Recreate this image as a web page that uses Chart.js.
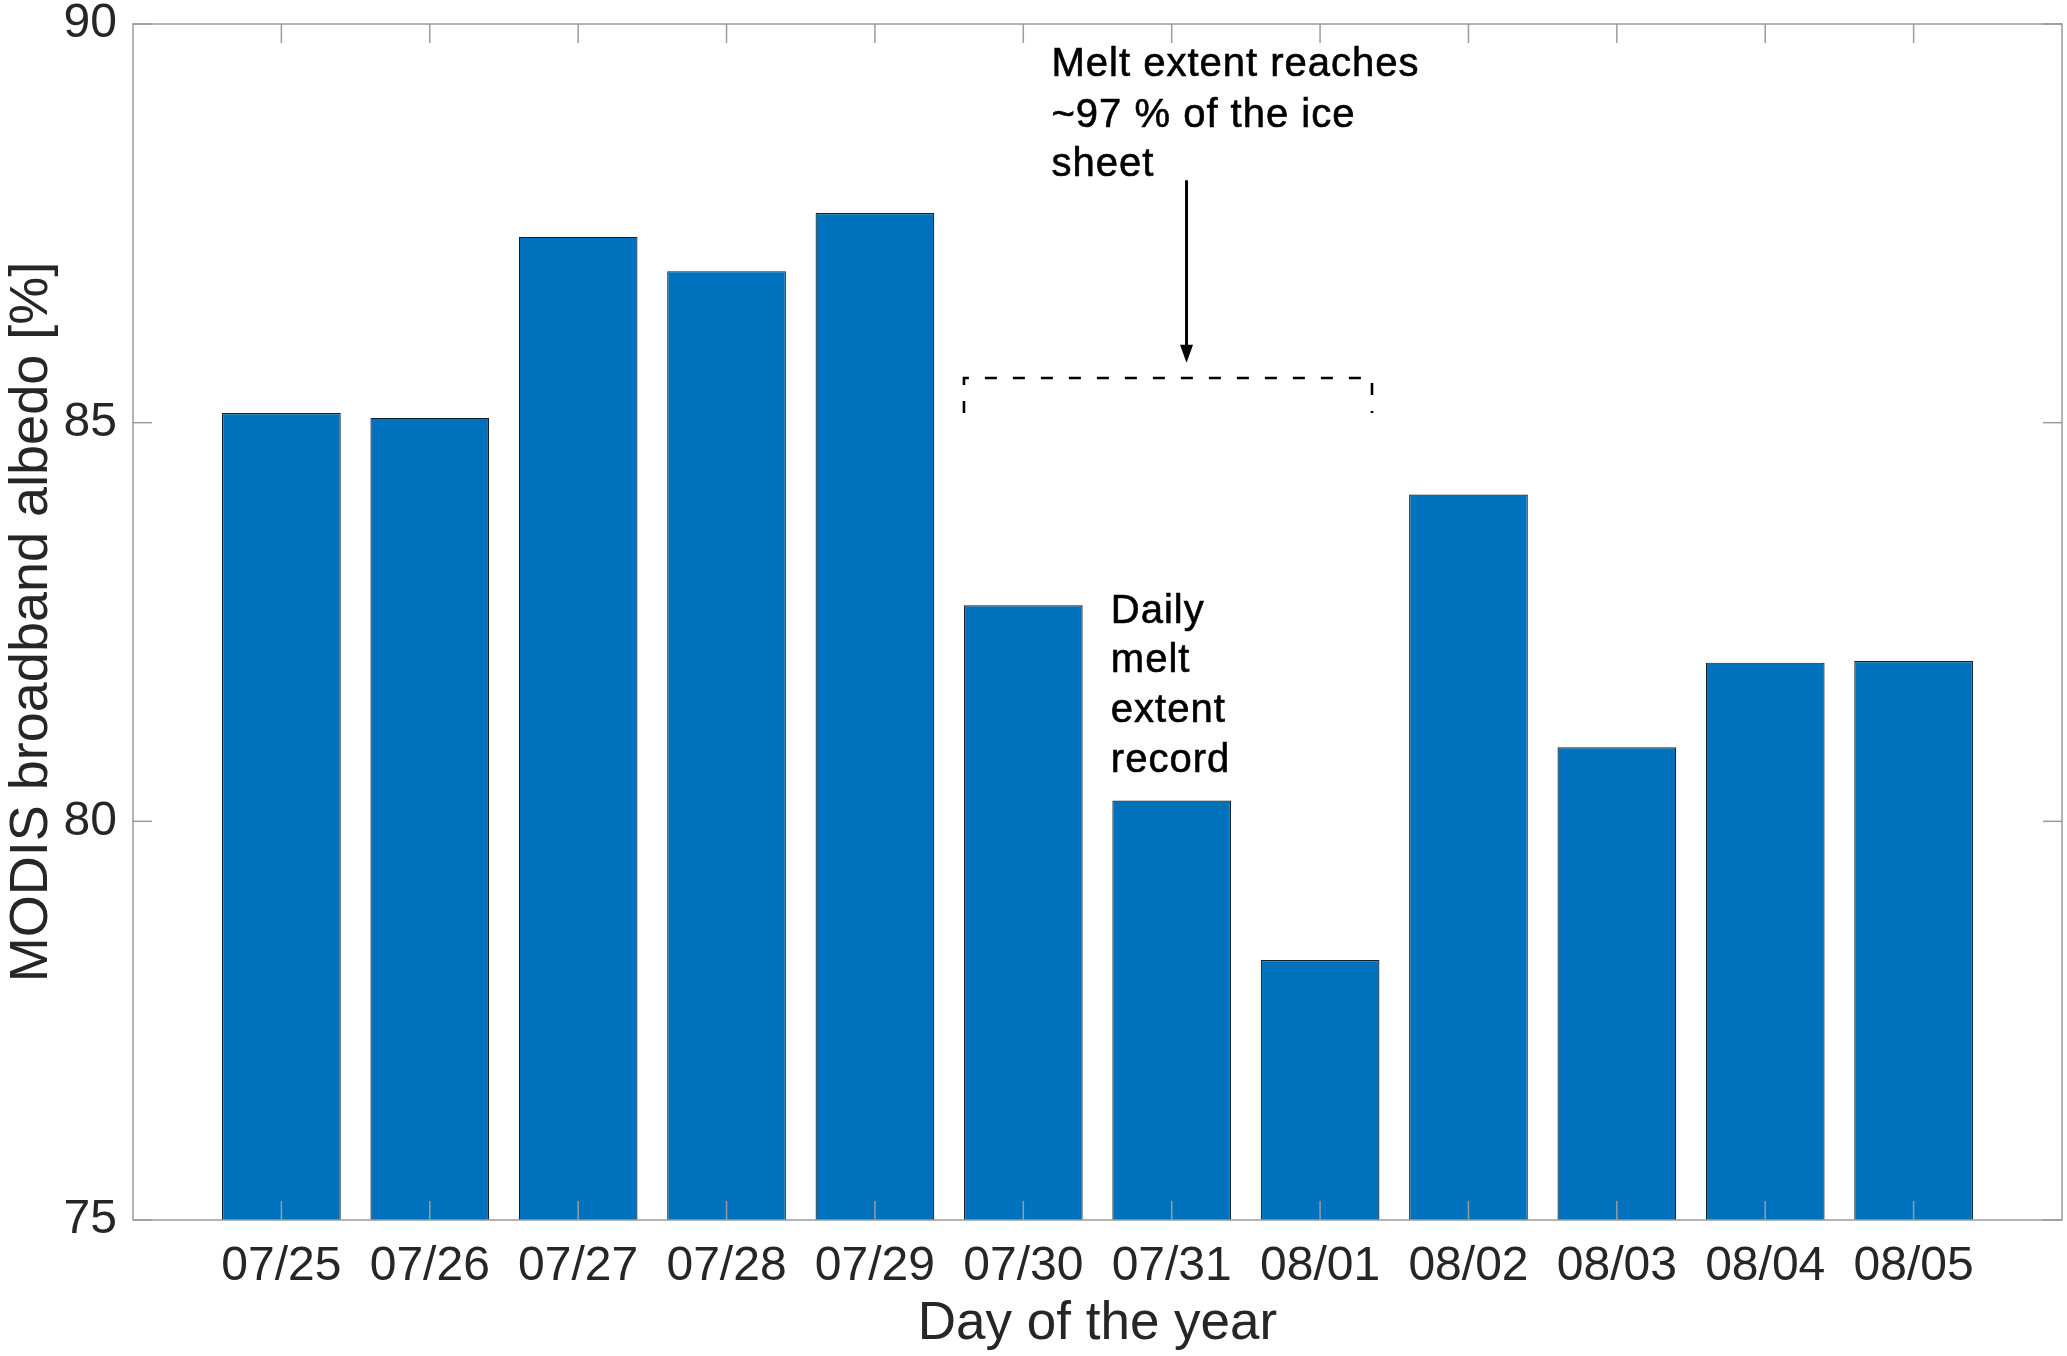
<!DOCTYPE html>
<html>
<head>
<meta charset="utf-8">
<script src="https://cdn.jsdelivr.net/npm/chart.js@4.4.1/dist/chart.umd.min.js"></script>
<style>
  html, body { margin: 0; padding: 0; background: #fff; }
  #wrap { width: 2067px; height: 1356px; }
</style>
</head>
<body>
<div id="wrap"><canvas id="albedoChart" width="2067" height="1356"></canvas></div>
<script>
// data
const days = ['07/25', '07/26', '07/27', '07/28', '07/29', '07/30', '07/31', '08/01', '08/02', '08/03', '08/04', '08/05'];
const albedo = [85.12, 85.06, 87.33, 86.90, 87.63, 82.71, 80.26, 78.26, 84.10, 80.93, 81.99, 82.01];
const yTicks = [75, 80, 85, 90];
const meltNote = ['Melt extent reaches', '~97 % of the ice', 'sheet'];
const recordNote = ['Daily', 'melt', 'extent', 'record'];

const FONT = '"Liberation Sans", Arial, Helvetica, sans-serif';
const AXIS_GREY = '#9b9b9b';
const TICK_LEN = 19;

// annotation placement, in axis units
const place = {
  meltText: { x: 6.19, y: [89.35, 88.71, 88.09] },
  recordText: { x: 6.59, y: [82.49, 81.87, 81.25, 80.62] },
  arrow: { x: 7.1, from: 88.04, to: 85.75 },
  bracket: { x0: 5.6, x1: 8.35, top: 85.56, foot: 85.12 }
};

function line(ctx, x0, y0, x1, y1) {
  ctx.beginPath();
  ctx.moveTo(x0, y0);
  ctx.lineTo(x1, y1);
  ctx.stroke();
}

const frame = {
  id: 'frame',
  afterDatasetsDraw(chart) {
    const { ctx, chartArea: a, scales: { x, y } } = chart;
    ctx.save();

    // notes
    ctx.fillStyle = '#000';
    ctx.strokeStyle = '#000';
    ctx.lineWidth = 0.6;
    ctx.font = '40px ' + FONT;
    ctx.letterSpacing = '1px';
    ctx.textAlign = 'left';
    ctx.textBaseline = 'alphabetic';
    const note = (t, px, py) => { ctx.fillText(t, px, py); ctx.strokeText(t, px, py); };
    meltNote.forEach((t, i) => note(t, x.getPixelForValue(place.meltText.x), y.getPixelForValue(place.meltText.y[i])));
    recordNote.forEach((t, i) => note(t, x.getPixelForValue(place.recordText.x), y.getPixelForValue(place.recordText.y[i])));
    ctx.letterSpacing = '0px';

    // arrow
    const ax = x.getPixelForValue(place.arrow.x);
    const ay0 = y.getPixelForValue(place.arrow.from);
    const ay1 = y.getPixelForValue(place.arrow.to);
    ctx.lineWidth = 3;
    line(ctx, ax, ay0, ax, ay1 - 12);
    ctx.beginPath();
    ctx.moveTo(ax, ay1);
    ctx.lineTo(ax - 6.5, ay1 - 18);
    ctx.lineTo(ax + 6.5, ay1 - 18);
    ctx.closePath();
    ctx.fill();

    // dashed bracket
    const bx0 = x.getPixelForValue(place.bracket.x0);
    const bx1 = x.getPixelForValue(place.bracket.x1);
    const by = y.getPixelForValue(place.bracket.top);
    const bf = y.getPixelForValue(place.bracket.foot);
    ctx.lineWidth = 2.6;
    ctx.setLineDash([12, 16]);
    ctx.beginPath();
    ctx.moveTo(bx0, bf);
    ctx.lineTo(bx0, by);
    ctx.lineTo(bx1, by);
    ctx.lineTo(bx1, bf);
    ctx.stroke();
    ctx.setLineDash([]);

    // axes box and inner ticks
    ctx.strokeStyle = AXIS_GREY;
    ctx.lineWidth = 1.5;
    ctx.strokeRect(a.left, a.top, a.right - a.left, a.bottom - a.top);
    days.forEach((d, i) => {
      const px = x.getPixelForValue(i + 1);
      line(ctx, px, a.bottom, px, a.bottom - TICK_LEN);
      line(ctx, px, a.top, px, a.top + TICK_LEN);
    });
    yTicks.forEach(v => {
      const py = y.getPixelForValue(v);
      line(ctx, a.left, py, a.left + TICK_LEN, py);
      line(ctx, a.right, py, a.right - TICK_LEN, py);
    });
    ctx.restore();
  }
};

new Chart(document.getElementById('albedoChart'), {
  type: 'bar',
  data: {
    datasets: [{
      data: albedo.map((v, i) => ({ x: i + 1, y: v })),
      backgroundColor: '#0072BD',
      borderColor: '#12202e',
      borderWidth: 1.2,
      barPercentage: 0.8,
      categoryPercentage: 1.0
    }]
  },
  options: {
    responsive: false,
    animation: false,
    devicePixelRatio: 1,
    layout: { padding: { left: 0, top: 24, right: 5, bottom: 0 } },
    plugins: { legend: { display: false }, tooltip: { enabled: false } },
    scales: {
      x: {
        type: 'linear',
        offset: false,
        min: 0,
        max: 13,
        afterBuildTicks: s => { s.ticks = days.map((d, i) => ({ value: i + 1 })); },
        afterFit: s => { s.height = 136; s.paddingLeft = 0; s.paddingRight = 0; },
        grid: { display: false, drawTicks: false, offset: false },
        border: { display: false },
        ticks: {
          autoSkip: false,
          maxRotation: 0,
          padding: 18,
          color: '#262626',
          font: { family: FONT, size: 48 },
          callback: v => days[v - 1] || ''
        },
        title: {
          display: true,
          text: 'Day of the year',
          color: '#262626',
          font: { family: FONT, size: 53 },
          padding: { top: 0, bottom: 0 }
        }
      },
      y: {
        min: 75,
        max: 90,
        afterBuildTicks: s => { s.ticks = yTicks.map(v => ({ value: v })); },
        afterFit: s => { s.width = 133; s.paddingTop = 0; s.paddingBottom = 0; },
        grid: { display: false, drawTicks: false },
        border: { display: false },
        ticks: {
          padding: 16,
          color: '#262626',
          font: { family: FONT, size: 48 }
        },
        title: {
          display: true,
          text: 'MODIS broadband albedo [%]',
          color: '#262626',
          font: { family: FONT, size: 54 },
          padding: { top: 0, bottom: 0 }
        }
      }
    }
  },
  plugins: [frame]
});
</script>
</body>
</html>
